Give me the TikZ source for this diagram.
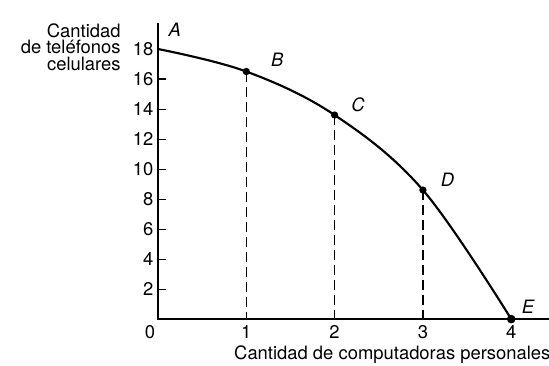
\documentclass[tikz,border=0pt]{standalone}
\usepackage{fontspec}
\setmainfont{TeX Gyre Heros}
\begin{document}
\begin{tikzpicture}[xscale=2.327, yscale=0.3954,
        every node/.style={font=\fontsize{13.8}{12.4}\selectfont},
        ptlabel/.style={font=\fontsize{13.8}{12.4}\selectfont\itshape},
        dot/.style={circle, fill, inner sep=0pt, minimum size=5.5pt}]
        \useasboundingbox (-1.789,-3.067) rectangle (4.428,21.267);

        % Points on the frontier
        \coordinate (pA) at (0,18);
        \coordinate (pB) at (1,16.5);
        \coordinate (pC) at (2,13.6);
        \coordinate (pD) at (3,8.6);
        \coordinate (pE) at (4,0);

        % Axis and ticks
        \draw[line width=1.1pt] (0,19.73) -- (0,0) -- (4.43,0);
        \foreach \y in {2,4,...,16} {
            \draw[line width=0.8pt] (0,\y) -- (0.09,\y);
        }
        \foreach \y in {2,4,...,18} {
            \node[left] (ty\y) at (0,\y) {\y};
        }
        \foreach \x in {1,2,3,4} {
            \coordinate (x\x) at (\x,0);
            \node[below=1pt] (tx\x) at (x\x) {\x};
        }
        \node (tx0) at (-0.09,-0.87) {0};
        \node[anchor=east, align=right] (ylab) at (-0.37,18.13) {Cantidad\\de teléfonos\\celulares};
        \node[anchor=west] (xlab) at (0.81,-2.4) {Cantidad de computadoras personales};

        % Curve
        \draw[line width=1.6pt] plot[smooth, tension=0.6] coordinates {(pA) (pB) (pC) (pD) (pE)};

        % Dots, drop lines and labels
        \foreach \p/\i in {B/1,C/2,D/3} {
            \draw[line width=1.1pt, dash pattern=on 7.5pt off 3.75pt] (p\p) -- (x\i);
        }
        \foreach \p in {B,C,D} {
            \node[dot] (d\p) at (p\p) {};
        }
        \node[dot, minimum size=6.5pt] (dE) at (pE) {};
        \node[ptlabel] (lA) at (0.19,19.27) {A};
        \node[ptlabel] (lB) at (1.35,17.27) {B};
        \node[ptlabel] (lC) at (2.265,14.27) {C};
        \node[ptlabel] (lD) at (3.28,9.27) {D};
        \node[ptlabel] (lE) at (4.19,0.8) {E};

    \end{tikzpicture}
\end{document}
